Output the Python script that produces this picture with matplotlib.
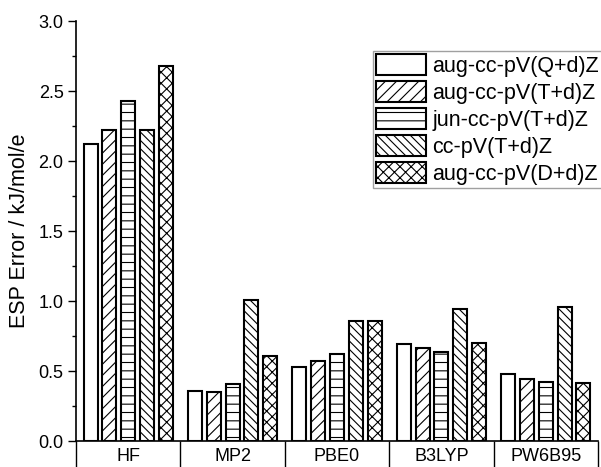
import matplotlib
matplotlib.use("Agg")
import matplotlib.pyplot as plt
import numpy as np
from matplotlib.ticker import MultipleLocator, FixedLocator

# Data
methods = ["HF", "MP2", "PBE0", "B3LYP", "PW6B95"]
basis_sets = ["aug-cc-pV(Q+d)Z", "aug-cc-pV(T+d)Z", "jun-cc-pV(T+d)Z",
              "cc-pV(T+d)Z", "aug-cc-pV(D+d)Z"]
aug_qz = [2.12, 0.36, 0.53, 0.69, 0.48]
aug_tz = [2.22, 0.35, 0.57, 0.665, 0.445]
jun_tz = [2.43, 0.41, 0.62, 0.635, 0.42]
cc_tz = [2.22, 1.01, 0.855, 0.945, 0.96]
aug_dz = [2.68, 0.61, 0.86, 0.70, 0.415]

series = [aug_qz, aug_tz, jun_tz, cc_tz, aug_dz]
hatches = ["", "///", "--", "\\\\\\\\", "xxx"]

plt.rcParams["font.family"] = ["Liberation Sans", "DejaVu Sans"]
plt.rcParams["hatch.linewidth"] = 0.8
plt.rcParams["hatch.color"] = "#333333"

fig = plt.figure(figsize=(6.01, 4.67), dpi=100)
ax = fig.add_axes([76 / 601, 1 - 441 / 467, (598 - 76) / 601, (441 - 21) / 467])

x = np.arange(1, len(methods) + 1)
pitch = 0.18
bar_width = 0.135
for i, (vals, name, h) in enumerate(zip(series, basis_sets, hatches)):
    ax.bar(x + (i - 2) * pitch, vals, width=bar_width, label=name,
           facecolor="white", edgecolor="black", linewidth=1.5, hatch=h)

ax.set_xlim(0.5, 5.5)
ax.set_ylim(0, 3.0)

# y axis
ax.yaxis.set_major_locator(MultipleLocator(0.5))
ax.yaxis.set_minor_locator(MultipleLocator(0.25))
ax.tick_params(axis="y", which="major", direction="out", length=6, width=1,
               labelsize=13, pad=3)
ax.tick_params(axis="y", which="minor", direction="out", length=3, width=1)
ax.set_ylabel("ESP Error / kJ/mol/e", fontsize=15.5, labelpad=6)

# x axis: separators as major ticks, labels on minor ticks
ax.xaxis.set_major_locator(FixedLocator(np.arange(0.5, 5.6, 1.0)))
ax.xaxis.set_minor_locator(FixedLocator(x))
ax.xaxis.set_major_formatter(plt.NullFormatter())
ax.set_xticks(x, methods, minor=True)
ax.tick_params(axis="x", which="major", direction="out", length=30, width=1)
ax.tick_params(axis="x", which="minor", length=0, labelsize=13, pad=5)

for side in ["top", "right"]:
    ax.spines[side].set_visible(False)
ax.spines["left"].set_linewidth(1.2)
ax.spines["bottom"].set_linewidth(1.2)

leg = ax.legend(loc="upper left", bbox_to_anchor=(373 / 601, 1 - 51 / 467),
                bbox_transform=fig.transFigure, fontsize=15.5, frameon=True,
                fancybox=False, edgecolor="#888888", handlelength=2.3,
                handleheight=1.1, labelspacing=0.2, handletextpad=0.3,
                borderpad=0.15, borderaxespad=0)
leg.get_frame().set_linewidth(1.0)

fig.savefig("out.png", dpi=100)
